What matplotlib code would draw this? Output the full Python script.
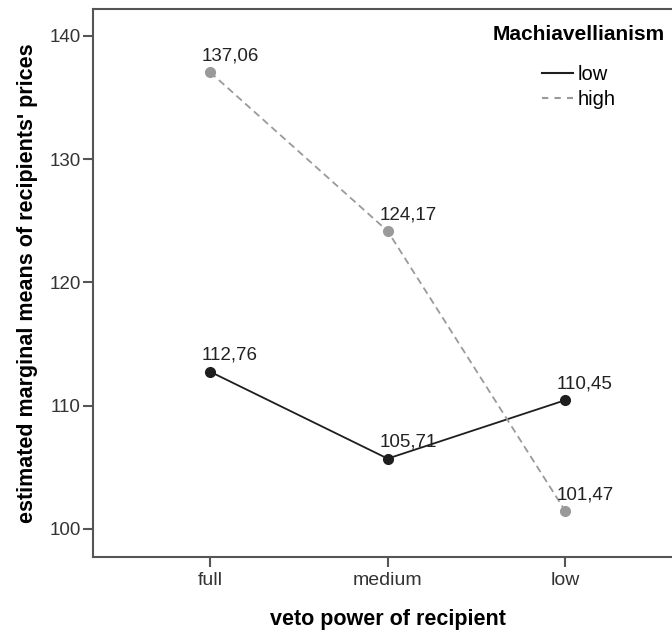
import matplotlib.pyplot as plt
from matplotlib.lines import Line2D

plt.rcParams['font.family'] = ['Liberation Sans', 'DejaVu Sans']

# data
categories = ['full', 'medium', 'low']
low_mach = [112.76, 105.71, 110.45]
high_mach = [137.06, 124.17, 101.47]
low_labels = ['112,76', '105,71', '110,45']
high_labels = ['137,06', '124,17', '101,47']

low_col = '#1e1e1e'
high_col = '#9a9a9a'

fig = plt.figure(figsize=(6.72, 6.34), dpi=100)
ax = fig.add_axes([0.1384, 0.1215, 0.877, 0.8643])

x = list(range(len(categories)))
ax.plot(x, low_mach, color=low_col, lw=1.3, marker='o', ms=7, zorder=3)
ax.plot(x, high_mach, color=high_col, lw=1.3, ls=(0, (4, 2.5)), marker='o', ms=7, zorder=3)

for xi, v, t in zip(x, low_mach, low_labels):
    ax.annotate(t, (xi, v), xytext=(-6, 8.5), textcoords='offset points',
                ha='left', va='baseline', fontsize=13.5, color='#222222')
for xi, v, t in zip(x, high_mach, high_labels):
    ax.annotate(t, (xi, v), xytext=(-6, 8.5), textcoords='offset points',
                ha='left', va='baseline', fontsize=13.5, color='#222222')

ax.set_xlim(-0.66, 2.66)
ax.set_ylim(97.73, 142.19)
ax.set_xticks(x)
ax.set_xticklabels(categories)
ax.set_yticks([100, 110, 120, 130, 140])

for s in ['left', 'bottom', 'top', 'right']:
    ax.spines[s].set_color('#555555')
    ax.spines[s].set_linewidth(1.5)
ax.tick_params(colors='#555555', labelcolor='#333333', width=1.5, length=7)
ax.tick_params(axis='x', pad=4, labelsize=14)
ax.tick_params(axis='y', pad=2, labelsize=13.5)

ax.set_xlabel('veto power of recipient', fontsize=15.5, fontweight='bold', labelpad=14)
ax.set_ylabel("estimated marginal means of recipients' prices", fontsize=15.5,
              fontweight='bold', labelpad=8)

handles = [Line2D([], [], color=low_col, lw=1.5),
           Line2D([], [], color=high_col, lw=1.5, ls=(0, (3, 3)))]
leg = ax.legend(handles, ['low', 'high'], title='Machiavellianism', loc='upper left',
                bbox_to_anchor=(0.651, 1.0), frameon=False, fontsize=14.5,
                handlelength=1.55, handletextpad=0.2, labelspacing=0.3,
                borderaxespad=0.4)
leg.get_title().set_fontweight('bold')
leg.get_title().set_fontsize(15)
leg._legend_box.sep = 15

fig.savefig('out.png', dpi=100)
